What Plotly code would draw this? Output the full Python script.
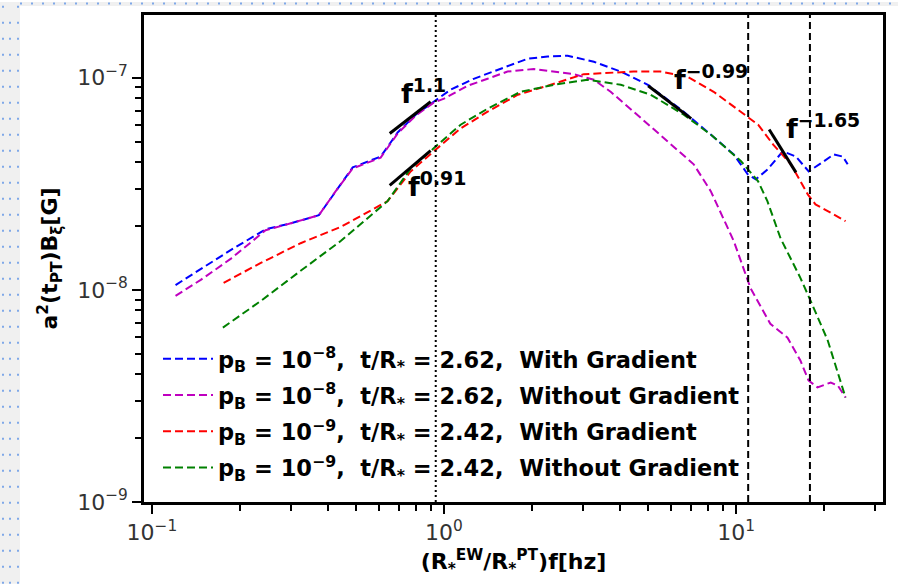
import plotly.graph_objects as go
import numpy as np

# ---------------- data ----------------
blue_x = [0.1205, 0.147, 0.186, 0.245, 0.299, 0.373, 0.426, 0.487, 0.607, 0.694, 0.800, 0.922,
          1.054, 1.264, 1.564, 1.934, 2.265, 2.653, 3.26, 4.03, 4.99, 6.62, 8.19, 9.82,
          10.96, 11.67, 12.83, 14.45, 16.0, 17.73, 19.5, 21.6, 23.2, 24.1]
blue_y = [1.054e-8, 1.256e-8, 1.54e-8, 1.93e-8, 2.06e-8, 2.25e-8, 2.92e-8, 3.78e-8, 4.25e-8, 5.52e-8,
          6.70e-8, 7.71e-8, 8.79e-8, 9.89e-8, 1.10e-7, 1.23e-7, 1.26e-7, 1.27e-7, 1.19e-7, 1.07e-7,
          9.26e-8, 6.92e-8, 5.40e-8, 4.35e-8, 3.51e-8, 3.32e-8, 3.70e-8, 4.50e-8, 4.26e-8, 3.62e-8,
          3.95e-8, 4.35e-8, 4.25e-8, 3.91e-8]

mag_x = [0.1205, 0.147, 0.186, 0.245, 0.299, 0.373, 0.426, 0.487, 0.607, 0.694, 0.800, 0.922,
         1.0, 1.205, 1.41, 1.65, 2.03, 2.38, 2.78, 3.26, 3.72, 4.46, 5.84, 7.16, 8.19, 9.82,
         11.2, 13.1, 15.0, 16.6, 17.7, 19.0, 21.1, 22.3, 23.7]
mag_y = [9.37e-9, 1.115e-8, 1.40e-8, 1.91e-8, 2.06e-8, 2.25e-8, 2.92e-8, 3.74e-8, 4.20e-8, 5.46e-8,
         6.63e-8, 7.63e-8, 7.97e-8, 9.17e-8, 9.89e-8, 1.07e-7, 1.10e-7, 1.07e-7, 1.04e-7, 9.79e-8,
         8.59e-8, 6.92e-8, 5.01e-8, 3.91e-8, 2.92e-8, 1.70e-8, 1.02e-8, 6.92e-9, 5.95e-9, 4.65e-9,
         3.74e-9, 3.47e-9, 3.66e-9, 3.54e-9, 3.11e-9]

red_x = [0.176, 0.236, 0.323, 0.443, 0.641, 0.769, 0.922, 1.14, 1.41, 1.79, 2.32, 3.01, 3.44,
         4.46, 5.52, 6.83, 8.38, 10.4, 11.9, 13.4, 15.4, 17.6, 18.7, 20.6, 23.7]
red_y = [1.08e-8, 1.34e-8, 1.66e-8, 1.98e-8, 2.62e-8, 3.62e-8, 4.50e-8, 5.77e-8, 6.92e-8, 8.32e-8,
         9.27e-8, 1.04e-7, 1.05e-7, 1.07e-7, 1.07e-7, 1.01e-7, 8.59e-8, 6.92e-8, 6.01e-8, 4.84e-8,
         3.91e-8, 2.82e-8, 2.53e-8, 2.35e-8, 2.11e-8]

green_x = [0.175, 0.236, 0.323, 0.443, 0.641, 0.769, 0.922, 1.14, 1.41, 1.83, 2.38, 3.10, 3.44,
           4.03, 5.10, 6.62, 8.19, 10.4, 11.9, 12.8, 14.2, 16.6, 18.0, 20.6, 23.7]
green_y = [6.64e-9, 8.87e-9, 1.23e-8, 1.70e-8, 2.62e-8, 3.74e-8, 4.65e-8, 6.01e-8, 7.15e-8, 8.59e-8,
           9.27e-8, 9.79e-8, 9.58e-8, 9.27e-8, 8.32e-8, 6.70e-8, 5.40e-8, 4.04e-8, 3.25e-8, 2.62e-8,
           1.75e-8, 1.14e-8, 8.87e-9, 5.77e-9, 3.11e-9]

series_names = [
    "<b>p<sub>B</sub> = 10<sup>−8</sup>,  t/R<sub>*</sub> = 2.62,  With Gradient</b>",
    "<b>p<sub>B</sub> = 10<sup>−8</sup>,  t/R<sub>*</sub> = 2.62,  Without Gradient</b>",
    "<b>p<sub>B</sub> = 10<sup>−9</sup>,  t/R<sub>*</sub> = 2.42,  With Gradient</b>",
    "<b>p<sub>B</sub> = 10<sup>−9</sup>,  t/R<sub>*</sub> = 2.42,  Without Gradient</b>",
]
series_colors = ["#0000ff", "#bf00bf", "#ff0000", "#008000"]

# power-law guide segments (endpoints)
seg_x0 = [0.652, 0.652, 5.0, 12.98]
seg_x1 = [0.900, 0.900, 7.02, 16.03]
seg_y0 = [5.46e-8, 3.11e-8, 9.17e-8, 5.70e-8]
seg_y1 = [7.71e-8, 4.54e-8, 6.42e-8, 3.58e-8]
seg_labels = ["<b>f<sup>1.1</sup></b>", "<b>f<sup>0.91</sup></b>",
              "<b>f<sup>−0.99</sup></b>", "<b>f<sup>−1.65</sup></b>"]

# reference vertical lines
vline_dotted = [0.937]
vline_dashed = [11.0, 17.9]

x_tickvals = [0.1, 1, 10]
x_ticktext = ["10<sup>−1</sup>", "10<sup>0</sup>", "10<sup>1</sup>"]
y_tickvals = [1e-9, 1e-8, 1e-7]
y_ticktext = ["10<sup>−9</sup>", "10<sup>−8</sup>", "10<sup>−7</sup>"]

# ---------------- figure ----------------
W, H = 898, 584
ML, MR, MT, MB = 144, 15, 13, 82
XR = [-1.027, 1.503]
YR = [-9.0, -6.704]

fig = go.Figure()

all_x = [blue_x, mag_x, red_x, green_x]
all_y = [blue_y, mag_y, red_y, green_y]
for i in range(4):
    fig.add_trace(go.Scatter(
        x=all_x[i], y=all_y[i], mode="lines", name=series_names[i],
        legendgroup=f"g{i}",
        line=dict(color=series_colors[i], width=2, dash="8px,4px"),
    ))

ylo, yhi = 10 ** YR[0], 10 ** YR[1]
for xv in vline_dotted:
    fig.add_trace(go.Scatter(x=[xv, xv], y=[ylo, yhi], mode="lines", showlegend=False,
                             line=dict(color="black", width=2, dash="2px,3px"), hoverinfo="skip"))
for xv in vline_dashed:
    fig.add_trace(go.Scatter(x=[xv, xv], y=[ylo, yhi], mode="lines", showlegend=False,
                             line=dict(color="black", width=2, dash="7px,4px"), hoverinfo="skip"))

for i in range(4):
    fig.add_trace(go.Scatter(x=[seg_x0[i], seg_x1[i]], y=[seg_y0[i], seg_y1[i]], mode="lines",
                             showlegend=False, line=dict(color="black", width=3), hoverinfo="skip"))

label_pos = [(-0.155, -7.066), (-0.131, -7.502), (0.780, -7.0), (1.163, -7.230)]
for i, (lx, ly) in enumerate(label_pos):
    fig.add_annotation(x=lx, y=ly, xref="x", yref="y", text=seg_labels[i], showarrow=False,
                       xanchor="left", yanchor="middle",
                       font=dict(family="DejaVu Sans", size=27, color="black"))

# decorative page frame (grey strips with blue dots)
pw = W - ML - MR
ph = H - MT - MB
def px2paper_x(p):
    return (p - ML) / pw
def py2paper_y(p):
    return 1 - (p - MT) / ph

fig.add_shape(type="rect", xref="paper", yref="paper",
              x0=px2paper_x(0), x1=px2paper_x(20), y0=py2paper_y(H), y1=py2paper_y(0),
              fillcolor="#f0f0f0", line=dict(width=0), layer="below")
fig.add_shape(type="rect", xref="paper", yref="paper",
              x0=px2paper_x(20), x1=px2paper_x(W), y0=py2paper_y(4), y1=py2paper_y(0),
              fillcolor="#f0f0f0", line=dict(width=0), layer="below")
for xc in [3, 10, 18]:
    fig.add_shape(type="line", xref="paper", yref="paper",
                  x0=px2paper_x(xc), x1=px2paper_x(xc), y0=py2paper_y(H), y1=py2paper_y(0 + (xc == 10) * 8),
                  line=dict(color="#7fa8e8", width=2, dash="2px,14px"))
fig.add_shape(type="line", xref="paper", yref="paper",
              x0=px2paper_x(20), x1=px2paper_x(W), y0=py2paper_y(1.5), y1=py2paper_y(1.5),
              line=dict(color="#7fa8e8", width=2, dash="2px,9px"))

axis_common = dict(
    type="log", showgrid=False, zeroline=False,
    showline=True, linecolor="black", linewidth=2.5, mirror=True,
    ticks="outside", ticklen=9, tickwidth=2, tickcolor="black",
    tickfont=dict(family="DejaVu Sans", size=22, color="#333333"),
    tickmode="array",
)

fig.update_layout(
    width=W, height=H,
    margin=dict(l=ML, r=MR, t=MT, b=MB),
    paper_bgcolor="white", plot_bgcolor="white",
    font=dict(family="DejaVu Sans", color="black"),
    showlegend=True,
    legend=dict(x=px2paper_x(158), y=py2paper_y(337), xanchor="left", yanchor="top",
                bgcolor="rgba(0,0,0,0)", borderwidth=0,
                font=dict(family="DejaVu Sans", size=22.5, color="black"),
                tracegroupgap=4, itemwidth=50),
    xaxis=dict(**axis_common, range=XR, tickvals=x_tickvals, ticktext=x_ticktext,
               minor=dict(tickmode="array",
                          tickvals=[0.2, 0.3, 0.4, 0.5, 0.6, 0.7, 0.8, 0.9,
                                    2, 3, 4, 5, 6, 7, 8, 9, 20, 30],
                          ticks="outside", ticklen=6, tickwidth=1.5, tickcolor="black"),
               title=dict(text="<b>(R<sub>*</sub><sup>EW</sup>/R<sub>*</sub><sup>PT</sup>)f[hz]</b>",
                          font=dict(family="DejaVu Sans", size=22, color="black"), standoff=10)),
    yaxis=dict(**axis_common, range=YR, tickvals=y_tickvals, ticktext=y_ticktext,
               minor=dict(tickmode="array",
                          tickvals=[2e-9, 3e-9, 4e-9, 5e-9, 6e-9, 7e-9, 8e-9, 9e-9,
                                    2e-8, 3e-8, 4e-8, 5e-8, 6e-8, 7e-8, 8e-8, 9e-8, 2e-7],
                          ticks="outside", ticklen=6, tickwidth=1.5, tickcolor="black"),
               title=dict(text="<b>a<sup>2</sup>(t<sub>PT</sub>)B<sub>ξ</sub>[G]</b>",
                          font=dict(family="DejaVu Sans", size=22, color="black"), standoff=14)),
)

fig.write_html("out.html")
